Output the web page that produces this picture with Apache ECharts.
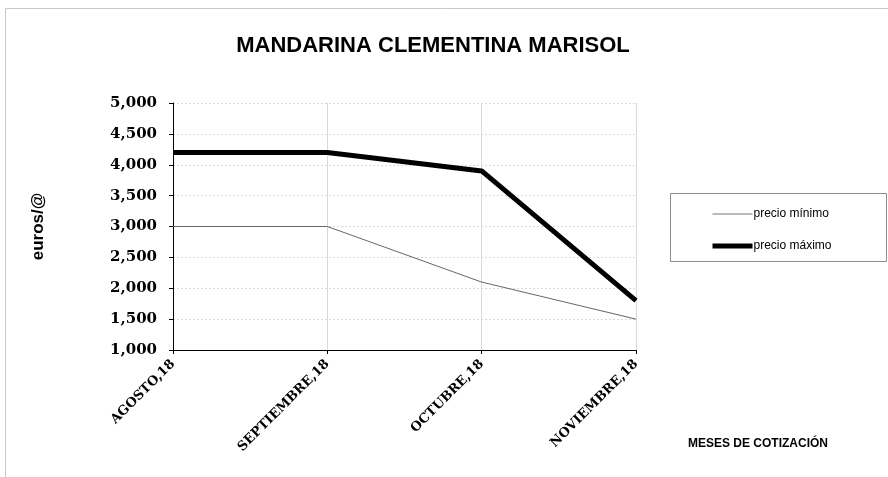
<!DOCTYPE html>
<html>
<head>
<meta charset="utf-8">
<script src="https://cdn.jsdelivr.net/npm/echarts@6/dist/echarts.min.js"></script>
<style>
  html, body { margin: 0; padding: 0; background: #fff; }
  #chart { width: 888px; height: 477px; }
</style>
</head>
<body>
<div id="chart"></div>
<script>
var months = ["AGOSTO,18", "SEPTIEMBRE,18", "OCTUBRE,18", "NOVIEMBRE,18"];
var precioMinimo = [3000, 3000, 2100, 1500];
var precioMaximo = [4200, 4200, 3900, 1800];
var seriesNames = ["precio mínimo", "precio máximo"];

var chart = echarts.init(document.getElementById("chart"));
var heavySerif = "'DejaVu Serif', serif";
var gridColor = "#d9d9d9";

var option = {
  backgroundColor: "#fff",
  animation: false,
  title: {
    text: "MANDARINA CLEMENTINA MARISOL",
    left: 428,
    top: 30,
    textAlign: "center",
    textStyle: {
      fontFamily: "'Liberation Sans', Arial",
      fontWeight: "bold",
      fontSize: 22,
      color: "#000"
    }
  },
  legend: {
    orient: "vertical",
    left: 705,
    top: 203,
    itemWidth: 40,
    itemHeight: 10,
    itemGap: 20,
    itemStyle: { opacity: 0 },
    data: [
      { name: seriesNames[0], lineStyle: { width: 1, color: "#777" } },
      { name: seriesNames[1], lineStyle: { width: 5, color: "#000" } }
    ],
    textStyle: {
      fontFamily: "'Liberation Sans', Arial",
      fontSize: 12,
      color: "#000",
      padding: [0, 0, 0, -4]
    }
  },
  grid: {
    left: 173,
    right: 252,
    top: 103,
    bottom: 127
  },
  xAxis: {
    type: "category",
    data: months,
    boundaryGap: false,
    axisLine: { lineStyle: { color: "#000", width: 1 } },
    axisTick: { show: true, length: 4, alignWithLabel: true, lineStyle: { color: "#000" } },
    axisLabel: {
      rotate: 45,
      margin: 12,
      fontFamily: heavySerif,
      fontWeight: "bold",
      fontSize: 13,
      color: "#000"
    },
    splitLine: { show: true, lineStyle: { color: gridColor, width: 1 } }
  },
  yAxis: {
    type: "value",
    min: 1000,
    max: 5000,
    interval: 500,
    name: "euros/@",
    nameLocation: "middle",
    nameGap: 126,
    nameRotate: 90,
    nameTextStyle: {
      fontFamily: "'Liberation Sans', Arial",
      fontWeight: "bold",
      fontSize: 17,
      color: "#000"
    },
    axisLine: { show: true, lineStyle: { color: "#000", width: 1 } },
    axisTick: { show: true, length: 4, lineStyle: { color: "#000" } },
    axisLabel: {
      margin: 16,
      fontFamily: heavySerif,
      fontWeight: "bold",
      fontSize: 15,
      color: "#000",
      formatter: function (v) {
        return v.toLocaleString("en-US");
      }
    },
    splitLine: { show: true, lineStyle: { color: gridColor, type: [2, 2], width: 1 } }
  },
  series: [
    {
      name: seriesNames[0],
      type: "line",
      data: precioMinimo,
      symbol: "none",
      lineStyle: { color: "#666", width: 1 },
      itemStyle: { color: "#666" }
    },
    {
      name: seriesNames[1],
      type: "line",
      data: precioMaximo,
      symbol: "none",
      lineStyle: { color: "#000", width: 5 },
      itemStyle: { color: "#000" }
    }
  ],
  graphic: [
    {
      type: "rect",
      shape: { x: 5.5, y: 8.5, width: 900, height: 500 },
      style: { fill: "none", stroke: "#c8c8c8", lineWidth: 1 },
      silent: true
    },
    {
      type: "rect",
      shape: { x: 670.5, y: 193.5, width: 216, height: 68 },
      style: { fill: "none", stroke: "#8c8c8c", lineWidth: 1 },
      silent: true
    },
    {
      type: "text",
      left: 688,
      top: 438,
      style: {
        text: "MESES DE COTIZACIÓN",
        fontFamily: "'Liberation Sans', Arial",
        fontWeight: "bold",
        fontSize: 12,
        fill: "#000"
      }
    }
  ]
};

chart.setOption(option);
window.onresize = function () {
  chart.resize();
};
</script>
</body>
</html>
